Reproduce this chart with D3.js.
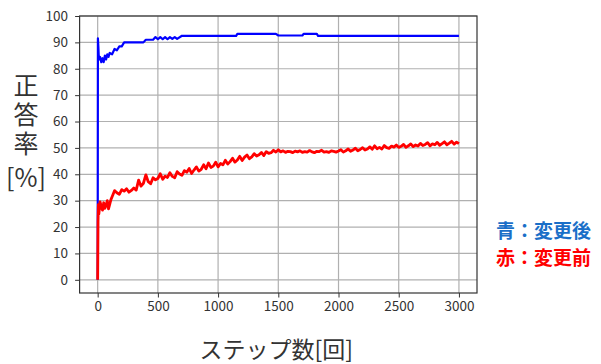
<!DOCTYPE html>
<html><head><meta charset="utf-8">
<script src="https://cdn.jsdelivr.net/npm/d3@7"></script>
<style>body{margin:0;background:#fff}svg{display:block}text{font-family:"Noto Sans CJK JP","Noto Sans",sans-serif}</style>
</head><body><svg id="c" width="601" height="364"></svg>
<script>
const xTicks = [0,500,1000,1500,2000,2500,3000];
const yTicks = [0,10,20,30,40,50,60,70,80,90,100];
const blueSteps = [0,2,6,10,20,30,40,50,60,70,80,90,100,120,140,160,180,200,220,240,380,400,460,480,500,520,540,560,580,600,620,640,660,700,1150,1160,1480,1500,1700,1710,1820,1830,3000];
const blueVals  = [0,91.5,88,83.5,84.5,82.5,84,82.5,85,83.5,85.5,84.5,86,85.5,87.5,87,88.5,88.5,90,90,90,91,91,92,91.2,92,91.2,92,91.2,92,91.3,92,91.3,92.5,92.5,93.2,93.2,92.6,92.6,93.2,93.2,92.5,92.5];
const redSteps = [0,3,6,10,20,30,40,50,60,70,80,90,100,110,
 120,140,160,180,200,220,240,260,280,300,320,340,360,380,400,420,440,460,480,500,520,540,560,580,600,620,640,660,680,700,720,740,760,780,800,820,840,860,880,900,920,940,960,980,1000,
 1020,1040,1060,1080,1100,1120,1140,1160,1180,1200,1220,1240,1260,1280,1300,1320,1340,1360,1380,1400,1420,1440,1460,1480,1500,
 1520,1540,1560,1580,1600,1620,1640,1660,1680,1700,1720,1740,1760,1780,1800,1820,1840,1860,1880,1900,1920,1940,1960,1980,2000,
 2020,2040,2060,2080,2100,2120,2140,2160,2180,2200,2220,2240,2260,2280,2300,2320,2340,2360,2380,2400,2420,2440,2460,2480,2500,
 2520,2540,2560,2580,2600,2620,2640,2660,2680,2700,2720,2740,2760,2780,2800,2820,2840,2860,2880,2900,2920,2940,2960,2980,3000];
const redVals = [0,22,28.5,25,29.5,27.8,26.4,29.2,27.1,28.3,30,26.9,28.6,30.4,
 31.5,33.8,33,32.4,34.2,33.6,34.5,33.2,33.9,34.8,34,37.8,35.5,36.6,39.8,37.2,36.4,38.7,37.9,38.4,40.2,38.1,39.3,38.8,40.6,39.2,38.7,41,40.1,39.6,41.4,40.8,42.2,40.3,41.6,42.8,41.2,41.9,43.6,42.1,44.3,42.6,43.1,44.6,42.8,
 44.1,43.6,45.3,43.9,44.8,46.1,44.6,45.4,46.8,45.2,46.5,47.3,45.9,46.6,47.8,46.9,47.4,48.3,47.1,48.6,47.9,48.2,49.1,48.4,49.3,
 48.5,48.9,48.3,48.7,48.6,48.2,48.8,48.5,48.9,48.3,48.6,48.4,49,48.5,48.2,48.7,48.6,49.1,48.4,48.6,48.3,48.9,48.7,48.4,48.8,
 49.3,48.4,48.9,49.6,48.7,49.2,49.9,48.9,49.4,50.1,49.2,49.6,50.4,49.5,50.8,49.7,50.2,49.6,50.9,50.1,49.8,50.7,50.3,51.1,50.2,
 50.6,51.3,50.2,50.8,51.5,50.5,51.1,50.7,51.7,50.9,51.3,52,50.8,51.5,51.2,52.1,51,51.6,52.3,51.2,51.8,52.5,51.4,52.2,51.6];

const svg = d3.select("#c");
const L = 79.6, R = 477, T = 16, B = 293;
const x = d3.scaleLinear().domain([-150,3150]).range([L,R]);
const y = d3.scaleLinear().domain([-5,100]).range([B,T]);

// grid
svg.append("g").selectAll("line").data(xTicks).join("line")
  .attr("x1",d=>x(d)).attr("x2",d=>x(d)).attr("y1",T).attr("y2",B)
  .attr("stroke","#b0b0b0").attr("stroke-width",1.2);
svg.append("g").selectAll("line").data(yTicks).join("line")
  .attr("x1",L).attr("x2",R).attr("y1",d=>y(d)).attr("y2",d=>y(d))
  .attr("stroke","#b0b0b0").attr("stroke-width",1.2);

// lines
const line = d3.line().x(d=>x(d[0])).y(d=>y(d[1]));
svg.append("path").datum(blueSteps.map((s,i)=>[s,blueVals[i]]))
  .attr("d",line).attr("fill","none").attr("stroke","#0000ff").attr("stroke-width",2.2).attr("stroke-linejoin","round");
svg.append("path").datum(redSteps.map((s,i)=>[s,redVals[i]]))
  .attr("d",line).attr("fill","none").attr("stroke","#ff0000").attr("stroke-width",2.8).attr("stroke-linejoin","round");

// axes
const ax = svg.append("g").attr("transform",`translate(0,${B})`)
  .call(d3.axisBottom(x).tickValues(xTicks).tickSize(4.5).tickPadding(4).tickFormat(d3.format("d")));
const ay = svg.append("g").attr("transform",`translate(${L},0)`)
  .call(d3.axisLeft(y).tickValues(yTicks).tickSize(4.5).tickPadding(7).tickFormat(d3.format("d")));
[ax,ay].forEach(g=>{
  g.select(".domain").remove();
  g.selectAll(".tick line").attr("stroke","#333").attr("stroke-width",1);
  g.selectAll(".tick text").attr("fill","#333").style("font-size","13.5px")
   .style("font-family","'Noto Sans CJK JP','Noto Sans',sans-serif");
});
// frame
svg.append("rect").attr("x",L).attr("y",T).attr("width",R-L).attr("height",B-T)
  .attr("fill","none").attr("stroke","#333").attr("stroke-width",1.2);

// axis titles
svg.append("text").attr("x",(L+R)/2-2).attr("y",358).attr("text-anchor","middle")
  .attr("fill","#333").style("font-size","23px").text("ステップ数[回]");
svg.append("text").attr("x",26).attr("y",73)
  .style("writing-mode","vertical-rl").style("letter-spacing","4px")
  .attr("fill","#333").style("font-size","25px").text("正答率");
svg.append("text").attr("x",26).attr("y",187).attr("text-anchor","middle")
  .attr("fill","#333").style("font-size","25px").text("[%]");

// legend text
svg.append("text").attr("x",496).attr("y",238).attr("fill","#1a6fc8")
  .style("font-size","19px").style("font-weight","bold").text("青：変更後");
svg.append("text").attr("x",496).attr("y",265).attr("fill","#ff0000")
  .style("font-size","19px").style("font-weight","bold").text("赤：変更前");
</script></body></html>
